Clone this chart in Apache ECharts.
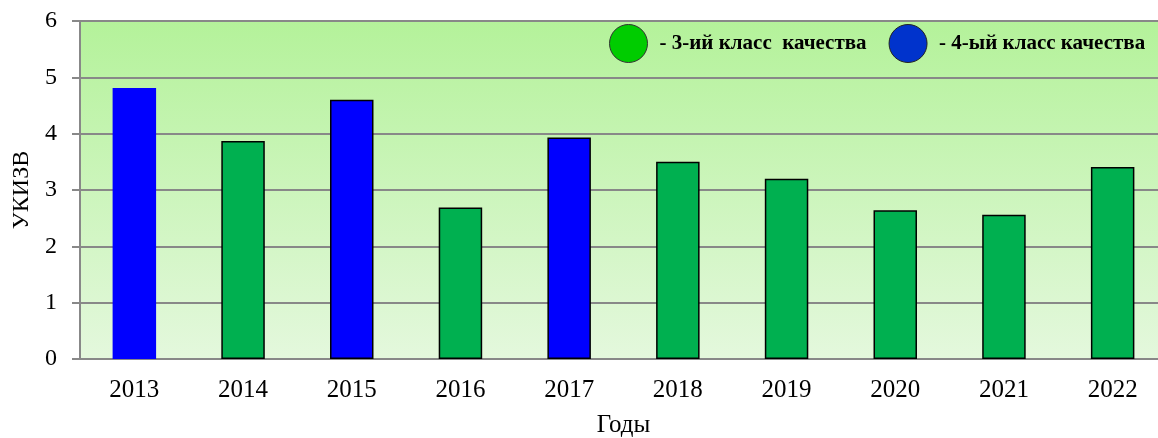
<!DOCTYPE html>
<html>
<head>
<meta charset="utf-8">
<script src="https://cdn.jsdelivr.net/npm/echarts@6/dist/echarts.min.js"></script>
<style>
  html, body { margin: 0; padding: 0; background: #fff; }
  #chart { width: 1158px; height: 438px; }
</style>
</head>
<body>
<div id="chart"></div>
<script>
const years = ['2013', '2014', '2015', '2016', '2017', '2018', '2019', '2020', '2021', '2022']
const values = [4.81, 3.87, 4.6, 2.69, 3.93, 3.5, 3.2, 2.64, 2.56, 3.41]
// класс качества воды по годам
const classes = [4, 3, 4, 3, 4, 3, 3, 3, 3, 3]
const yTicks = [0, 1, 2, 3, 4, 5, 6]

const serif = '"Liberation Serif", "DejaVu Serif", serif'

const chartDom = document.getElementById('chart')
const myChart = echarts.init(chartDom)

let green = values.map((v, i) => classes[i] === 3 ? v : '-')
let blue = values.map((v, i) => {
  if (classes[i] !== 4) return '-'
  // первый столбец без рамки
  if (i === 0) return {value: v, itemStyle: {borderWidth: 0}}
  return v
})

let option = {
  animation: false,
  grid: {
    left: 80,
    right: -9,
    top: 21,
    bottom: 79,
    outerBoundsMode: 'none',
    show: true,
    borderWidth: 0,
    backgroundColor: new echarts.graphic.LinearGradient(0, 0, 0, 1, [
      {offset: 0, color: '#b4f29a'},
      {offset: 1, color: '#e4f8dd'}
    ])
  },
  legend: {
    left: 609,
    top: 24,
    padding: 0,
    itemWidth: 38,
    itemHeight: 38,
    itemGap: 22,
    icon: 'circle',
    textStyle: {
      fontFamily: serif,
      fontSize: 21,
      fontWeight: 'bold',
      color: '#000',
      padding: [0, 0, 0, 7]
    },
    data: [
      {name: '- 3-ий класс  качества', itemStyle: {color: '#00cc00', borderColor: '#333', borderWidth: 1}},
      {name: '- 4-ый класс качества', itemStyle: {color: '#0033cc', borderColor: '#222', borderWidth: 1}}
    ]
  },
  xAxis: {
    type: 'category',
    data: years,
    name: 'Годы',
    nameLocation: 'middle',
    nameGap: 54,
    nameTextStyle: {fontFamily: serif, fontSize: 25, color: '#000'},
    axisLine: {lineStyle: {color: '#888', width: 2}},
    axisTick: {length: 6, lineStyle: {color: '#888', width: 2}},
    axisLabel: {fontFamily: serif, fontSize: 25, color: '#000', margin: 19}
  },
  yAxis: {
    type: 'value',
    min: yTicks[0],
    max: yTicks[yTicks.length - 1],
    interval: 1,
    name: 'УКИЗВ',
    nameLocation: 'middle',
    nameGap: 46,
    nameTextStyle: {fontFamily: serif, fontSize: 24, color: '#000'},
    axisLine: {show: true, lineStyle: {color: '#888', width: 2}},
    axisTick: {show: true, length: 8, lineStyle: {color: '#888', width: 2}},
    axisLabel: {fontFamily: serif, fontSize: 24, color: '#000', margin: 23},
    splitLine: {lineStyle: {color: '#888', width: 2}}
  },
  series: [
    {
      name: '- 3-ий класс  качества',
      type: 'bar',
      data: green,
      barWidth: '40%',
      barGap: '-100%',
      itemStyle: {color: '#00b050', borderColor: '#000', borderWidth: 1.5}
    },
    {
      name: '- 4-ый класс качества',
      type: 'bar',
      data: blue,
      barWidth: '40%',
      barGap: '-100%',
      itemStyle: {color: '#0000ff', borderColor: '#000', borderWidth: 1.5}
    }
  ]
}

option && myChart.setOption(option)
</script>
</body>
</html>
